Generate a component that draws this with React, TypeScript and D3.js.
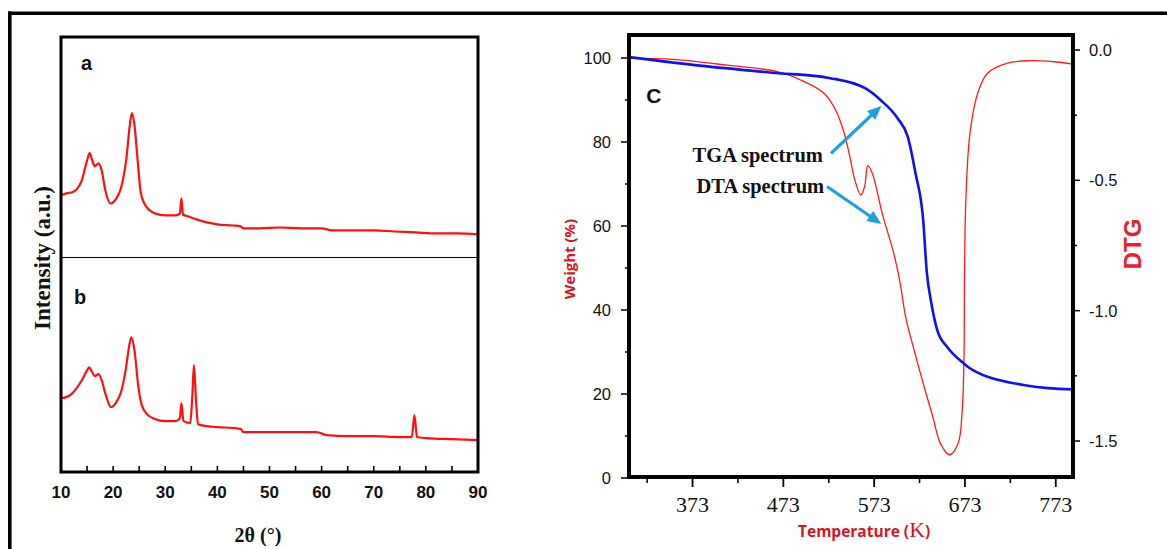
import React from "react";
import * as d3 from "d3";

const W = 1167;
const H = 549;

// ---------- XRD panel (a, b) ----------
const XRD_TICK_LABELS = [10, 20, 30, 40, 50, 60, 70, 80, 90];
const XRD_TICK_MARKS = [15, 20, 25, 30, 35, 40, 45, 50, 55, 60, 65, 70, 75, 80, 85];

const XRD_A_2THETA = [10, 11, 12, 13, 14, 15, 15.5, 16, 16.5, 17.2, 17.8, 18.5, 19.5, 20.5, 21.5, 22.5, 23.2, 23.6, 24.1, 24.7, 25.3, 26, 27, 28, 30, 32, 32.8, 33.1, 33.4, 34.5, 36, 38, 40, 43, 44.5, 45, 48, 52, 56, 60, 62, 66, 70, 74, 78, 82, 86, 90];
const XRD_A_INTENSITY = [28.2, 29.1, 29.5, 30.9, 35, 44, 47.3, 44, 41.4, 42.7, 39.5, 30.5, 24.5, 26.4, 31.4, 44, 60, 65.5, 60, 44, 29.5, 24.5, 21.4, 20, 19.1, 19.1, 20, 26.8, 19.5, 18.6, 17.3, 15.9, 15, 14.5, 14.1, 13.2, 13.2, 13.6, 13.2, 13.2, 12.3, 12.3, 12.3, 11.8, 11.4, 10.9, 10.9, 10.5];

const XRD_B_2THETA = [10, 11, 12, 13, 14, 15, 15.4, 16, 16.5, 17.2, 17.8, 18.6, 19.6, 20.5, 21.5, 22.4, 23.1, 23.5, 24.1, 24.8, 25.5, 26.5, 28, 30, 32, 32.8, 33.1, 33.5, 34.8, 35.2, 35.5, 35.9, 36.3, 38, 40, 43, 44.5, 45, 48, 52, 56, 59, 61, 65, 70, 75, 77.3, 77.8, 78.3, 80, 85, 90];
const XRD_B_INTENSITY = [34.4, 34.9, 36.3, 39.1, 42.8, 47.4, 48.8, 46.5, 44.7, 45.6, 42.8, 35.8, 30.2, 32.1, 37.2, 47.4, 59, 62.8, 56.7, 40.5, 31.2, 27, 24.7, 23.7, 23.7, 25.1, 32.1, 23.7, 22.8, 35.8, 49.8, 33.5, 22.3, 21.4, 20.9, 20.5, 20, 18.6, 18.6, 18.6, 18.6, 18.6, 17.2, 16.7, 16.7, 16.3, 16.3, 26.5, 16.3, 15.8, 15.3, 14.9];

// ---------- Thermal panel (C) ----------
const TEMP_TICK_LABELS = [373, 473, 573, 673, 773];
const TEMP_MINOR = [323, 423, 523, 623, 723];
const WEIGHT_TICK_LABELS = [0, 20, 40, 60, 80, 100];
const WEIGHT_MINOR = [10, 30, 50, 70, 90];
const DTG_TICK_LABELS = [0, -0.5, -1.0, -1.5];
const DTG_MINOR = [-0.25, -0.75, -1.25];

const TGA_T = [303, 375.6, 461, 524.6, 563, 580, 599, 610, 618.5, 627, 631, 636, 642.5, 653, 661, 670, 678, 687, 698, 709, 739, 764.6, 792];
const TGA_W = [100.2, 98.3, 96.5, 95.2, 92.8, 90, 85.6, 81.3, 72.6, 61.4, 49, 41.6, 35.2, 31.3, 29.3, 27.6, 26.2, 25.1, 24.1, 23.4, 22.1, 21.4, 21.1];

const DTG_T = [303, 351, 411, 466.5, 492, 517.8, 530.5, 539, 545.4, 551.8, 558.2, 562.5, 566, 571, 581.8, 594.6, 601, 608, 616, 627, 637.6, 646, 656, 665.5, 670, 672, 672.5, 674, 678.5, 687, 697.8, 719, 744.8, 770.5, 792];
const DTG_V = [-0.032, -0.036, -0.058, -0.083, -0.115, -0.166, -0.23, -0.307, -0.396, -0.499, -0.556, -0.524, -0.444, -0.473, -0.626, -0.78, -0.882, -1.03, -1.138, -1.279, -1.407, -1.509, -1.553, -1.509, -1.381, -1.163, -0.882, -0.575, -0.32, -0.166, -0.089, -0.051, -0.041, -0.045, -0.054];

const SERIF = "'Liberation Serif', 'Times New Roman', serif";
const SANS = "'Liberation Sans', Arial, sans-serif";
const CAL = "'Open Sans', 'Noto Sans', sans-serif";

function arrowHead(x1: number, y1: number, x2: number, y2: number, len: number, half: number) {
  const a = Math.atan2(y2 - y1, x2 - x1);
  const bx = x2 - len * Math.cos(a);
  const by = y2 - len * Math.sin(a);
  const px = -Math.sin(a) * half;
  const py = Math.cos(a) * half;
  return `${x2},${y2} ${bx + px},${by + py} ${bx - px},${by - py}`;
}

export default function App() {
  // XRD scales
  const L = { left: 61, right: 478, top: 37, mid: 257.5, bottom: 472 };
  const x2t = d3.scaleLinear().domain([10, 90]).range([L.left, L.right]);
  const yA = d3.scaleLinear().domain([0, 100]).range([L.mid, L.top]);
  const yB = d3.scaleLinear().domain([0, 100]).range([L.bottom, L.mid]);

  const lineA = d3.line<number>().x((_, i) => x2t(XRD_A_2THETA[i])).y((d) => yA(d)).curve(d3.curveMonotoneX);
  const lineB = d3.line<number>().x((_, i) => x2t(XRD_B_2THETA[i])).y((d) => yB(d)).curve(d3.curveMonotoneX);

  // thermal scales
  const R = { left: 629, right: 1073, top: 35, bottom: 477 };
  const xT = d3.scaleLinear().domain([303, 792]).range([R.left, R.right]);
  const yW = d3.scaleLinear().domain([0, 100]).range([478, 58]);
  const yD = d3.scaleLinear().domain([0, -1.5]).range([50, 441]);

  const tgaLine = d3
    .line<number>()
    .x((_, i) => xT(TGA_T[i]))
    .y((d) => yW(d))
    .curve(d3.curveMonotoneX);
  const dtgLine = d3
    .line<number>()
    .x((_, i) => xT(DTG_T[i]))
    .y((d) => yD(d))
    .curve(d3.curveCatmullRom.alpha(0.5));

  // annotations in data units (T, weight %)
  const tgaArrow = { t1: 525.5, w1: 77.3, t2: 580.9, w2: 88.6 };
  const dtaArrow = { t1: 521, w1: 69.4, t2: 580.9, w2: 60.5 };
  const ARROW = "#1d9fe0";

  const arrows = [tgaArrow, dtaArrow].map((a, i) => {
    const x1 = xT(a.t1), y1 = yW(a.w1), x2 = xT(a.t2), y2 = yW(a.w2);
    const ang = Math.atan2(y2 - y1, x2 - x1);
    const sx = x2 - 10 * Math.cos(ang);
    const sy = y2 - 10 * Math.sin(ang);
    return (
      <g key={i}>
        <line x1={x1} y1={y1} x2={sx} y2={sy} stroke={ARROW} strokeWidth={3.2} />
        <polygon points={arrowHead(x1, y1, x2, y2, 14, 6)} fill={ARROW} />
      </g>
    );
  });

  return (
    <div style={{ position: "absolute", left: 0, top: 0, width: W, height: H, background: "#fff" }}>
      <svg width={W} height={H} style={{ display: "block" }}>
        <rect x={0} y={0} width={W} height={H} fill="#fff" />
        <defs>
          <clipPath id="clipA">
            <rect x={L.left} y={L.top} width={L.right - L.left} height={L.mid - L.top} />
          </clipPath>
          <clipPath id="clipB">
            <rect x={L.left} y={L.mid} width={L.right - L.left} height={L.bottom - L.mid} />
          </clipPath>
          <clipPath id="clipR">
            <rect x={R.left} y={R.top} width={R.right - R.left} height={R.bottom - R.top} />
          </clipPath>
        </defs>

        {/* outer frame (top and left) */}
        <line x1={8} y1={13.2} x2={W} y2={13.2} stroke="#000" strokeWidth={3.4} />
        <line x1={9.8} y1={11.5} x2={9.8} y2={H} stroke="#000" strokeWidth={3.6} />

        {/* ===== XRD panel ===== */}
        <path d={lineA(XRD_A_INTENSITY) || ""} fill="none" stroke="#ff1010" strokeWidth={2.2} clipPath="url(#clipA)" strokeLinejoin="round" />
        <path d={lineB(XRD_B_INTENSITY) || ""} fill="none" stroke="#ff1010" strokeWidth={2.2} clipPath="url(#clipB)" strokeLinejoin="round" />
        <line x1={L.left} y1={L.mid} x2={L.right} y2={L.mid} stroke="#000" strokeWidth={1} />
        {XRD_TICK_MARKS.map((v) => (
          <line key={"xm" + v} x1={x2t(v)} x2={x2t(v)} y1={L.bottom} y2={L.bottom - 6} stroke="#000" strokeWidth={1.6} />
        ))}
        <rect x={L.left} y={L.top} width={L.right - L.left} height={L.bottom - L.top} fill="none" stroke="#000" strokeWidth={3} />
        {XRD_TICK_LABELS.map((v) => (
          <text key={"xl" + v} x={x2t(v)} y={498} textAnchor="middle" fontFamily={SANS} fontWeight="bold" fontSize={17} fill="#111">
            {v}
          </text>
        ))}
        <text x={258} y={542} textAnchor="middle" fontFamily={SERIF} fontWeight="bold" fontSize={20} fill="#111">
          2θ (°)
        </text>
        <text
          transform="translate(50,258) rotate(-90)"
          textAnchor="middle"
          fontFamily={SERIF}
          fontWeight="bold"
          fontSize={23}
          fill="#111"
        >
          Intensity (a.u.)
        </text>
        <text x={81} y={70} fontFamily={SANS} fontWeight="bold" fontSize={20} fill="#111">a</text>
        <text x={74} y={304} fontFamily={SANS} fontWeight="bold" fontSize={20} fill="#111">b</text>

        {/* ===== Thermal panel ===== */}
        <path d={dtgLine(DTG_V) || ""} fill="none" stroke="#ff1a1a" strokeWidth={1.3} clipPath="url(#clipR)" />
        <path d={tgaLine(TGA_W) || ""} fill="none" stroke="#1010ee" strokeWidth={2.6} clipPath="url(#clipR)" />
        <rect x={R.left} y={R.top} width={R.right - R.left} height={R.bottom - R.top} fill="none" stroke="#000" strokeWidth={4} />

        {/* bottom temperature axis */}
        {TEMP_TICK_LABELS.map((v) => (
          <g key={"t" + v}>
            <line x1={xT(v)} x2={xT(v)} y1={R.bottom} y2={R.bottom + 10} stroke="#000" strokeWidth={1.8} />
            <text x={xT(v)} y={512} textAnchor="middle" fontFamily={SERIF} fontSize={22} fill="#111">
              {v}
            </text>
          </g>
        ))}
        {TEMP_MINOR.map((v) => (
          <line key={"tm" + v} x1={xT(v)} x2={xT(v)} y1={R.bottom} y2={R.bottom + 6} stroke="#000" strokeWidth={1.6} />
        ))}
        <text x={798} y={537} fontFamily={CAL} fontWeight="bold" fontSize={15.5} fill="#d8141c">
          Temperature (
          <tspan fontFamily={SERIF} fontWeight="normal" fontSize={22}>K</tspan>)
        </text>

        {/* left weight axis */}
        {WEIGHT_TICK_LABELS.map((v) => (
          <g key={"w" + v}>
            <line x1={R.left} x2={R.left - 8} y1={yW(v)} y2={yW(v)} stroke="#000" strokeWidth={1.5} />
            <text x={611} y={yW(v) + 6} textAnchor="end" fontFamily={SANS} fontSize={16.5} fill="#111">
              {v}
            </text>
          </g>
        ))}
        {WEIGHT_MINOR.map((v) => (
          <line key={"wm" + v} x1={R.left} x2={R.left - 4} y1={yW(v)} y2={yW(v)} stroke="#000" strokeWidth={1.5} />
        ))}
        <text
          transform="translate(575,259) rotate(-90)"
          textAnchor="middle"
          fontFamily={CAL}
          fontWeight="bold"
          fontSize={15}
          fill="#d8141c"
        >
          Weight (%)
        </text>

        {/* right DTG axis */}
        {DTG_TICK_LABELS.map((v) => (
          <g key={"d" + v}>
            <line x1={R.right} x2={R.right + 7} y1={yD(v)} y2={yD(v)} stroke="#000" strokeWidth={1.5} />
            <text x={1089} y={yD(v) + 6} fontFamily={SANS} fontSize={16.5} fill="#111">
              {v.toFixed(1)}
            </text>
          </g>
        ))}
        {DTG_MINOR.map((v) => (
          <line key={"dm" + v} x1={R.right} x2={R.right + 4} y1={yD(v)} y2={yD(v)} stroke="#000" strokeWidth={1.5} />
        ))}
        <text
          transform="translate(1141,244) rotate(-90)"
          textAnchor="middle"
          fontFamily={SANS}
          fontWeight="bold"
          fontSize={24}
          fill="#e8202c"
        >
          DTG
        </text>

        {/* annotations */}
        <text x={xT(322)} y={yW(89.3)} fontFamily={SANS} fontWeight="bold" fontSize={21} fill="#111">C</text>
        <text x={xT(516.6)} y={yW(75.2)} textAnchor="end" fontFamily={SERIF} fontWeight="bold" fontSize={20.5} fill="#111">
          TGA spectrum
        </text>
        <text x={xT(518)} y={yW(67.9)} textAnchor="end" fontFamily={SERIF} fontWeight="bold" fontSize={20.5} fill="#111">
          DTA spectrum
        </text>
        {arrows}
      </svg>
    </div>
  );
}
